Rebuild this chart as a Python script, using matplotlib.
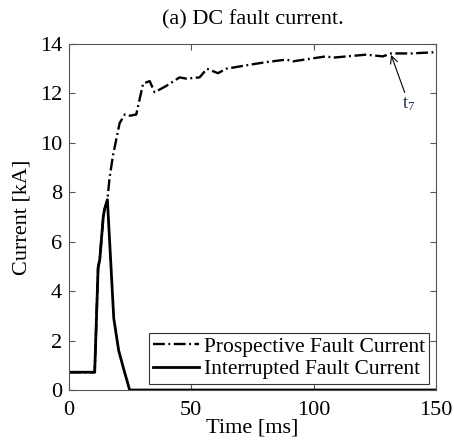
import matplotlib
matplotlib.use('Agg')
import matplotlib.pyplot as plt

# Prospective fault current (dash-dot)
t_prosp = [0, 10.5, 11.9, 12.6, 14.0, 14.5, 15.7, 16.6, 18.0, 20.7, 22.8, 25.0, 27.5,
           30.3, 33.0, 35.0, 39.7, 45.2, 48.0, 53.4, 56.4, 60.9, 64.3, 72.5, 80.7,
           88.9, 91.6, 105.0, 108.0, 121.5, 128.3, 131.7, 140.0, 150.0]
i_prosp = [0.72, 0.72, 4.95, 5.3, 7.0, 7.3, 7.7, 8.6, 9.5, 10.8, 11.15, 11.1, 11.15,
           12.4, 12.5, 12.05, 12.3, 12.65, 12.6, 12.65, 13.0, 12.82, 13.0, 13.14, 13.27,
           13.37, 13.3, 13.5, 13.45, 13.57, 13.5, 13.62, 13.62, 13.67]

# Interrupted fault current (solid)
t_intr = [0, 10.5, 11.9, 12.6, 14.0, 14.5, 15.7, 17.0, 18.3, 20.3, 22.5, 24.8, 150.0]
i_intr = [0.72, 0.72, 4.95, 5.3, 7.0, 7.3, 7.7, 5.3, 2.9, 1.6, 0.8, 0.0, 0.0]

x_ticks = [0, 50, 100, 150]
y_ticks = [0, 2, 4, 6, 8, 10, 12, 14]

serif = ['Liberation Serif', 'DejaVu Serif']
plt.rcParams['font.family'] = serif
plt.rcParams['mathtext.fontset'] = 'custom'
plt.rcParams['mathtext.rm'] = 'Liberation Serif'
plt.rcParams['mathtext.it'] = 'Liberation Serif'

fig = plt.figure(figsize=(4.54, 4.43), dpi=100)
ax = fig.add_axes([0.152, 0.1196, 0.808, 0.781])

ax.plot(t_prosp, i_prosp, color='black', linestyle=(0, (5, 1.5, 0.8, 1.5)), linewidth=1.7,
        label='Prospective Fault Current')
ax.plot(t_intr, i_intr, color='black', linestyle='-', linewidth=2.0,
        label='Interrupted Fault Current')

ax.annotate('t$_\\mathrm{7}$', xy=(131.7, 13.56), xytext=(136.3, 11.4), color='#1f2a5a',
            fontsize=13, family=serif,
            arrowprops=dict(arrowstyle='->', color='black', lw=0.8, shrinkA=0, shrinkB=0))

ax.set_xlim(0, 150)
ax.set_ylim(0, 14)
ax.set_xticks(x_ticks)
ax.set_yticks(y_ticks)
ax.set_xticklabels([str(v) for v in x_ticks], family=serif, fontsize=16)
ax.set_yticklabels([str(v) for v in y_ticks], family=serif, fontsize=16)
ax.tick_params(direction='in', top=True, right=True, length=4, color='#555555')
ax.tick_params(axis='x', pad=8)
ax.tick_params(axis='y', pad=5)
for s in ax.spines.values():
    s.set_color('#555555')
    s.set_linewidth(0.8)

ax.set_xlabel('Time [ms]', fontsize=16, labelpad=-1)
ax.set_ylabel('Current [kA]', fontsize=16, labelpad=6)
ax.set_title('(a) DC fault current.', fontsize=16, pad=14)

leg = ax.legend(loc='lower right', fontsize=15.5, fancybox=False, framealpha=1,
                edgecolor='#333333', borderpad=0.2, labelspacing=0.1,
                handlelength=2.1, handletextpad=0.25, borderaxespad=0.3)
leg.get_frame().set_linewidth(0.8)

fig.savefig('out.png', dpi=100)
